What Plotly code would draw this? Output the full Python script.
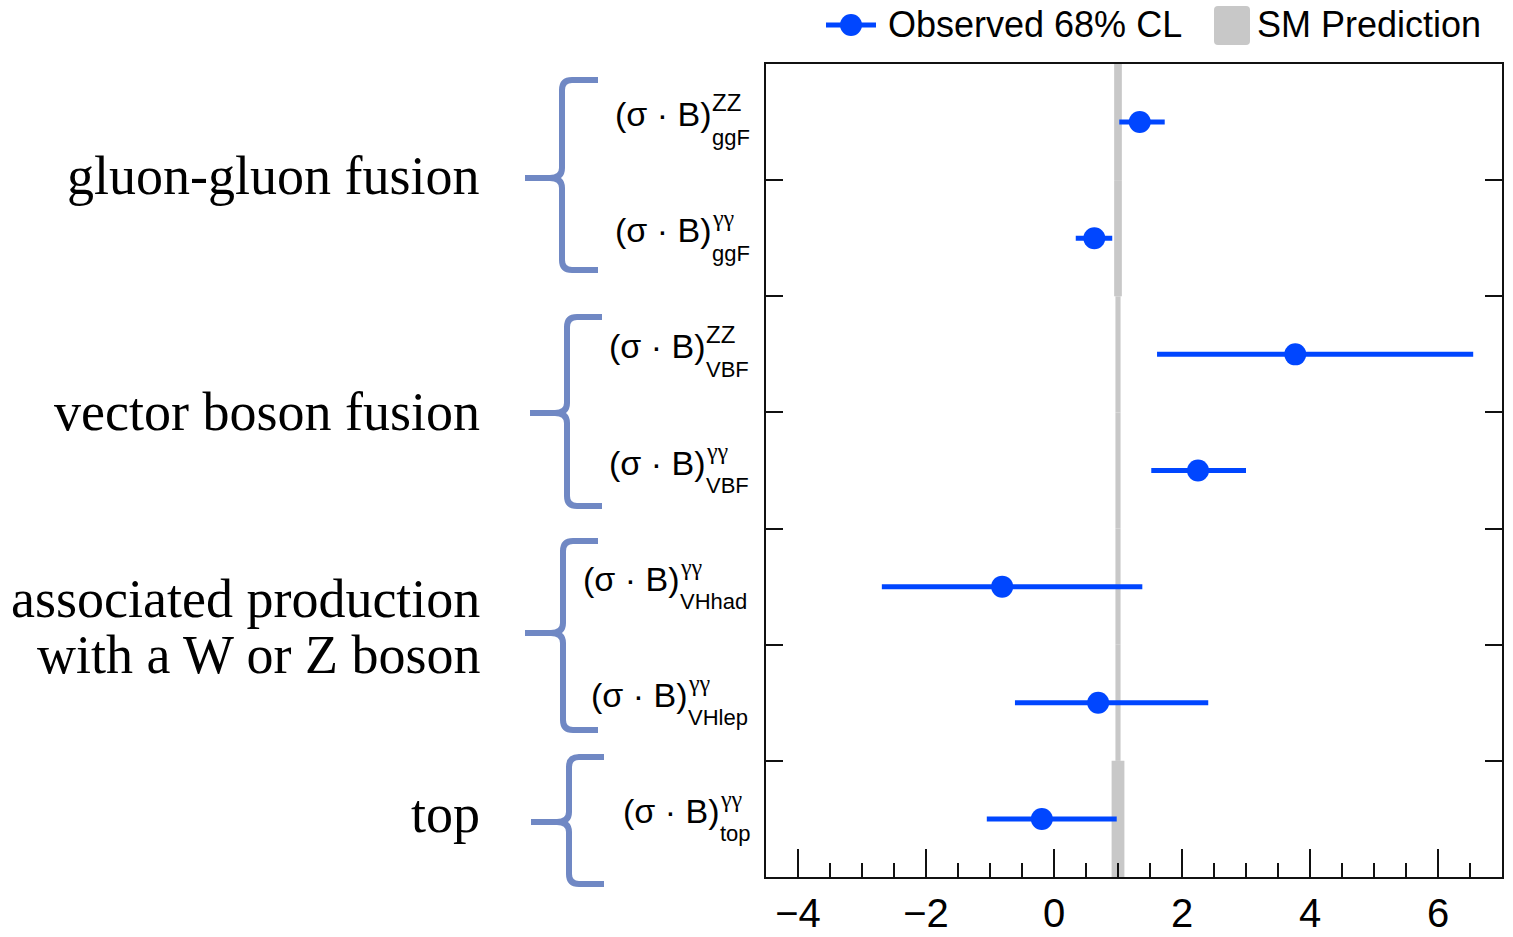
import plotly.graph_objects as go

# Measured signal strengths per production/decay channel (68% CL intervals)
channel_sup = ["ZZ", "γγ", "ZZ", "γγ", "γγ", "γγ", "γγ"]
channel_sub = ["ggF", "ggF", "VBF", "VBF", "VHhad", "VHlep", "top"]
observed = [1.34, 0.63, 3.77, 2.25, -0.81, 0.69, -0.19]
obs_low = [1.02, 0.34, 1.61, 1.52, -2.69, -0.61, -1.05]
obs_high = [1.73, 0.91, 6.55, 3.00, 1.38, 2.41, 0.98]

# Standard Model expectation and its uncertainty per channel
sm_value = [1.0, 1.0, 1.0, 1.0, 1.0, 1.0, 1.0]
sm_unc = [0.06, 0.06, 0.04, 0.04, 0.04, 0.04, 0.10]

# Production-mode groups (text lines per group)
group_lines = [["gluon-gluon fusion"], ["vector boson fusion"],
               ["associated production", "with a W or Z boson"], ["top"]]

x_major = [-4, -2, 0, 2, 4, 6]

W, H = 1513, 937
L, R, T, B = 766, 1502, 64, 877
BLUE = "#0046ff"
GREY = "#c8c8c8"
BRACE = "#7088c4"
SANS = "Liberation Sans, Arial, Helvetica, sans-serif"
SERIF = "Liberation Serif, Times New Roman, serif"


def px(x):
    return (x - L) / (R - L)


def py(y):
    return (B - y) / (B - T)


n = len(observed)
rows = [n - 1 - i for i in range(n)]

fig = go.Figure()

# SM prediction band
fig.add_trace(go.Bar(
    y=rows,
    x=[2 * u for u in sm_unc],
    base=[v - u for v, u in zip(sm_value, sm_unc)],
    orientation="h",
    width=1.0,
    marker=dict(color=GREY, line=dict(width=0)),
    showlegend=False,
    hoverinfo="skip",
))

# Observed values with 68% CL intervals
fig.add_trace(go.Scatter(
    x=observed,
    y=rows,
    mode="markers",
    marker=dict(color=BLUE, size=22),
    error_x=dict(
        type="data", symmetric=False,
        array=[h - v for h, v in zip(obs_high, observed)],
        arrayminus=[v - lo for v, lo in zip(observed, obs_low)],
        color=BLUE, thickness=5, width=0,
    ),
    showlegend=False,
    cliponaxis=False,
))

annotations = []
shapes = []

# Channel labels (σ · B) with stacked super/subscripts
split_px = [712, 712, 706, 706, 680, 688, 720]
for i in range(n):
    sup_font = SERIF if channel_sup[i] == "γγ" else SANS
    annotations.append(dict(
        x=px(split_px[i] + 2), xref="paper", y=rows[i], yref="y",
        text="(σ · B)", showarrow=False, xanchor="right", yanchor="middle",
        yshift=8, font=dict(family=SANS, size=34, color="black"),
    ))
    annotations.append(dict(
        x=px(split_px[i] - 2), xref="paper", y=rows[i], yref="y",
        text=channel_sup[i], showarrow=False, xanchor="left", yanchor="middle",
        yshift=20, font=dict(family=sup_font, size=24, color="black"),
    ))
    annotations.append(dict(
        x=px(split_px[i] - 2), xref="paper", y=rows[i], yref="y",
        text=channel_sub[i], showarrow=False, xanchor="left", yanchor="middle",
        yshift=-15, font=dict(family=SANS, size=22, color="black"),
    ))

# Group labels and braces
label_centers = [[176], [412], [599, 655], [814]]
brace_geom = [
    (80, 270, 562, 598, 525, 178),
    (317, 506, 567, 602, 530, 413),
    (541, 730, 563, 598, 525, 633),
    (757, 884, 569, 604, 531, 822),
]
for lines, centers in zip(group_lines, label_centers):
    for txt, cy in zip(lines, centers):
        annotations.append(dict(
            x=px(482), xref="paper", y=py(cy), yref="paper",
            text=txt, showarrow=False, xanchor="right", yanchor="middle",
            font=dict(family=SERIF, size=54, color="black"),
        ))


def pt(x, y):
    return f"{px(x):.5f},{py(y):.5f}"


for top, bot, vx, cx, tx, mid in brace_geom:
    r = 10
    d = (f"M {pt(cx, top)} L {pt(vx + r, top)} Q {pt(vx, top)} {pt(vx, top + r)} "
         f"L {pt(vx, mid - 10)} Q {pt(vx, mid)} {pt(vx - 12, mid)} L {pt(tx, mid)} "
         f"M {pt(tx, mid)} L {pt(vx - 12, mid)} Q {pt(vx, mid)} {pt(vx, mid + 10)} "
         f"L {pt(vx, bot - r)} Q {pt(vx, bot)} {pt(vx + r, bot)} L {pt(cx, bot)}")
    shapes.append(dict(type="path", path=d, xref="paper", yref="paper",
                       line=dict(color=BRACE, width=6), layer="above"))

# Legend
shapes.append(dict(type="line", xref="paper", yref="paper",
                   x0=px(826), x1=px(876), y0=py(25), y1=py(25),
                   line=dict(color=BLUE, width=5)))
shapes.append(dict(type="circle", xref="paper", yref="paper",
                   x0=px(840), x1=px(862), y0=py(36), y1=py(14),
                   fillcolor=BLUE, line=dict(width=0)))
rr = 4
x0b, x1b, y0b, y1b = 1214, 1250, 6, 45
box = (f"M {pt(x0b + rr, y0b)} L {pt(x1b - rr, y0b)} Q {pt(x1b, y0b)} {pt(x1b, y0b + rr)} "
       f"L {pt(x1b, y1b - rr)} Q {pt(x1b, y1b)} {pt(x1b - rr, y1b)} "
       f"L {pt(x0b + rr, y1b)} Q {pt(x0b, y1b)} {pt(x0b, y1b - rr)} "
       f"L {pt(x0b, y0b + rr)} Q {pt(x0b, y0b)} {pt(x0b + rr, y0b)} Z")
shapes.append(dict(type="path", path=box, xref="paper", yref="paper",
                   fillcolor=GREY, line=dict(width=0)))
annotations.append(dict(x=px(886), xref="paper", y=py(25), yref="paper",
                        text="Observed 68% CL", showarrow=False,
                        xanchor="left", yanchor="middle",
                        font=dict(family=SANS, size=36, color="black")))
annotations.append(dict(x=px(1255), xref="paper", y=py(25), yref="paper",
                        text="SM Prediction", showarrow=False,
                        xanchor="left", yanchor="middle",
                        font=dict(family=SANS, size=36, color="black")))

fig.update_layout(
    width=W, height=H,
    margin=dict(l=L, r=W - R, t=T, b=H - B, pad=0, autoexpand=False),
    paper_bgcolor="white", plot_bgcolor="white",
    barmode="overlay",
    showlegend=False,
    annotations=annotations,
    shapes=shapes,
    xaxis=dict(
        range=[-4.5, 7.0],
        tickvals=x_major,
        ticks="inside", ticklen=28, tickwidth=2, tickcolor="#111",
        minor=dict(dtick=0.5, tick0=0, ticks="inside", ticklen=14,
                   tickwidth=2, tickcolor="#111"),
        showline=True, linecolor="#111", linewidth=2, mirror=True,
        showgrid=False, zeroline=False, automargin=False,
        tickfont=dict(family=SANS, size=40, color="black"),
        ticklabelstandoff=0,
    ),
    yaxis=dict(
        range=[-0.5, n - 0.5],
        tickvals=[k + 0.5 for k in range(n - 1)],
        showticklabels=False,
        ticks="inside", ticklen=17, tickwidth=2, tickcolor="#111",
        showline=True, linecolor="#111", linewidth=2, mirror="ticks",
        showgrid=False, zeroline=False, automargin=False,
    ),
)

fig.write_html("out.html")
